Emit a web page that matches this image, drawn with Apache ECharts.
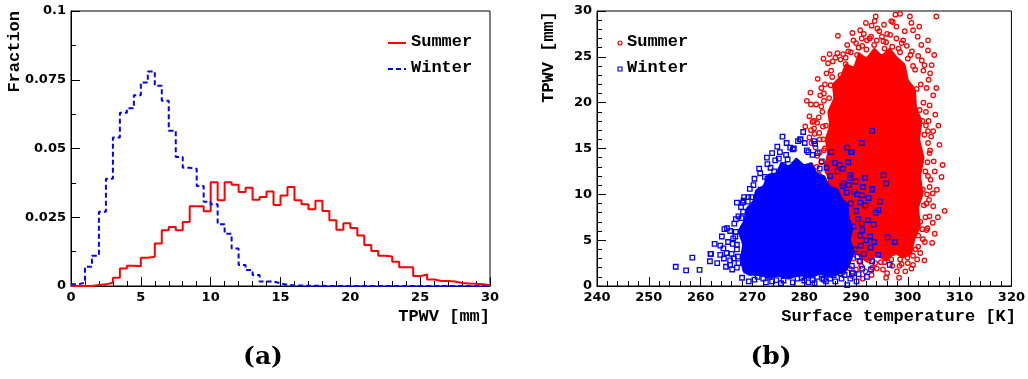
<!DOCTYPE html>
<html><head><meta charset="utf-8">
<script src="https://cdn.jsdelivr.net/npm/echarts@6/dist/echarts.min.js"></script>
<style>html,body{margin:0;padding:0;background:#fff}#c{width:1028px;height:379px}</style>
</head><body><div id="c"></div>
<script>
// ---- (a) histogram: fraction per 0.5 mm bin, 0..30 mm ----
const binWidth = 0.5;
const summerHist = [0,0,0,0.0004,0.0006,0.0012,0.003,0.0064,0.0074,0.0072,
  0.0103,0.0106,0.0155,0.0203,0.0215,0.0203,0.0233,0.029,0.029,0.0272,
  0.0377,0.0312,0.0377,0.0368,0.0342,0.0357,0.0314,0.0324,0.0344,0.0295,
  0.0329,0.036,0.0312,0.0297,0.0279,0.031,0.0273,0.0239,0.0205,0.0228,
  0.0211,0.0184,0.0149,0.0127,0.011,0.0107,0.0088,0.0068,0.0068,0.0036,
  0.0042,0.0024,0.0018,0.0018,0.0016,0.0011,0.0009,0.0008,0.0006,0.0003];
const winterHist = [0.0006,0.0012,0.007,0.011,0.027,0.039,0.054,0.063,0.0646,0.0694,
  0.074,0.078,0.0728,0.0674,0.0565,0.0469,0.043,0.0426,0.0364,0.0306,
  0.0297,0.0225,0.019,0.0136,0.0076,0.0058,0.004,0.0016,0.0016,0.001,
  0.0004,0.0002,0.0002,0.0001,0.0001,0.0001,0,0,0,0,
  0,0,0,0,0,0,0,0,0,0,
  0,0,0,0,0,0,0,0,0,0];
const histXTicks = [0,5,10,15,20,25,30];
const histYTicks = [0,0.025,0.05,0.075,0.1];

// ---- (b) scatter: surface temperature [K] vs TPWV [mm] ----
// outlines of the saturated (solid) part of each cloud
const summerCore = [[287,3.5],[286,5],[285.5,6.5],[285,8],[284.3,10],[284.6,11.5],[283.8,13],[284.4,14.5],[284,16],
  [284.8,17.5],[284.5,19],[285.6,20.5],[285.4,22],[287,23],[288,24.3],[289.5,24],[290.5,25.5],[292,25],[293.5,26],
  [295,25.3],[296.5,26],[298,25],[299.5,24.2],[300.2,22.5],[301.5,21.5],[301.8,19.5],[302.8,18],[302.4,16],[303.2,14],
  [302.6,12],[303,10],[302.2,8.5],[302.5,6.5],[301.4,5],[300.8,3.5],[299,3],[297.5,3.5],[296,2.7],[294,3.2],[292,2.6],
  [290,3.4],[288.5,3]];
const winterCore = [[268.2,1.5],[267.6,3],[268,4.5],[267.2,6],[268.3,7.2],[268.8,8.5],[270,9.3],[270.6,10.5],[272,11],
  [273,12.2],[274.5,12.4],[275.5,13.5],[277,13.2],[278.5,14],[280,13.3],[281.5,13.5],[282.5,12.4],[284,12],[285,11],
  [286.5,10.6],[287.5,9.5],[288.5,9],[288.8,7.5],[289.5,6.3],[289,5],[289.8,3.8],[289,2.5],[288.2,1.6],[286.5,1.2],
  [285,0.9],[283,1.2],[281,0.8],[279,1.1],[277,0.7],[275,1],[273,0.8],[271,1.2],[269.5,1.1]];
// individual points outside the saturated cores
const summerPts = [[293.8,29.4],[293.6,28.9],[297.6,29.6],[298.5,29.7],[300.4,29.4],[305.5,29.4],[297.1,28.8],[297.8,28.3],
  [294.1,28.1],[300.7,28.7],[302.2,28.3],[301,27.9],[286.5,27.3],[291.1,27],[292.9,27.2],[295,27.2],[299.1,26.8],[303.9,26.8],
  [302.6,26.3],[292.1,26.8],[295.3,26.7],[298.2,25.9],[303.9,25.7],[305.1,25.2],[286.4,25.4],[288,24.9],[290.2,25.2],[284.6,24.3],
  [287,24.7],[304.6,24.1],[303.2,24.1],[305.5,21.6],[303.6,21.6],[304.2,19.7],[305.3,18.7],[283.3,21.6],[283.8,21],[281.3,19.8],
  [283.3,19.6],[281,18.5],[281.6,17.9],[281.9,17.2],[285.4,22.8],[285.1,21.9],[306.1,15.4],[304.5,16.3],[306.7,13.2],[306.5,11.9],
  [307.1,8.2],[304.8,10.1],[304.9,8.7],[304.8,6.9],[304.7,4.7],[303.2,2.8],[301,2.3],[298.8,2.4],[295.9,3],[294.6,3.4],
  [293.7,2.5],[297.2,3.6],[299.7,3.9],[302,4.3],[303.6,6.1],[304.2,7.6],[304.1,9.4],[304.4,11.6],[304.2,14.5],[303.9,15.6],
  [284.6,1.6],[281.9,18],[281.3,17],[282.9,16.7],[283.7,16],[281.4,15.6],[282.2,15.1],[283.8,14.8],
  [289,25.5],[290.5,26],[292,25.8],[293.5,26.3],[295.5,25.9],[297,26.1],[298.5,25.5],[300,24.8],[301,24],[288,24.2],
  [287,23],[296,27.5],[294.5,27.8],[299.8,26.2],[291.5,27.5],[302,25.1],[289.5,26.8],[297.8,27],[293,28.4],[300.8,25.6],
  [302.5,22],[303,20],[302.8,18],[303.2,16.5],[302.6,14],[303.4,12.5],[302.9,10.5],[303.1,8.8],[302.4,7],[302,5.5],
  [301.5,4],[303.8,13.5],[303.5,17.5],[302.3,19.2],[304,22.5],[303,23.5],[301.7,21.5],[303.7,10],[302.8,6.2],[303.3,4.8],
  [284,22],[284.8,20.5],[283.5,19],[284.2,17.5],[283,16],[284,15],[283.3,13.5],[284.5,12.5],[282.5,14.2],[285.2,23.5],
  [283.8,20.2],[282.8,18.4],[285.5,24.5],[282,16.6],[283.6,11.8],
  [288,2.5],[289.5,3],[291,2.2],[292.5,2.8],[294,1.9],[295.5,2.6],[297,2.2],[298.5,2.9],[300,2.5],[299.5,1.6],
  [296,1.4],[293,1.2],[290,1.8],[287.5,1.5],[301,3.3],[285.5,2.5],[286.5,4],[284,3.3],[289.2,1.1],
  [288.5,25.6],[290,26.5],[291.2,26.2],[292.6,27],[294,26.8],[295.8,26.6],[296.6,27.4],[298.8,26.5],[300.5,25.2],[301.4,23.6],
  [289.3,27.6],[291.9,28.7],[295.4,28.5],[296.8,28.9],[299.4,27.8],[301.9,27.2],[288.3,26.3],[287.5,25.3],[286,24.9],[290.8,27.9],
  [303.5,19],[304,18],[303.9,16.9],[304.3,14.8],[303.9,12],[304.2,10.8],[303.6,9],[303.4,7.5],[303.8,6.3],[302.9,5.1],
  [305,13.6],[305.2,12.5],[305.6,10.5],[305.8,7.5],[305.2,5.7],[304.9,16.9],[304.9,20.8],[304.3,23.2],[302.7,24.6],[305.9,17.5],
  [283.3,10.6],[282.8,12.2],[282.4,13],[283,14.6],[282.5,17.8],[283.6,17.4],[282.3,19.8],[283.1,20.8],[284.3,23.2],[284.9,25.3],
  [283.7,24.8],[282.6,22.6],[281.2,21.1],[280.5,20.2],[281,16.2],[280.2,17.4],
  [287.6,2.6],[288.8,1.9],[290.6,2.7],[291.8,1.6],[293.2,2],[294.8,2.6],[295.2,1.8],[296.8,2.9],[297.9,1.6],[298.4,2.2],
  [299.9,3.1],[300.7,1.9],[301.8,2.9],[302.4,3.6],[291.3,0.8],[295.8,0.9],[298.3,0.9]];
const winterPts = [[279.2,16],[280.1,15.6],[277.3,15.1],[277.8,14.9],[280.8,14.6],[282.6,14.5],[285.2,14.6],[272.8,14],
  [274.4,13.7],[275.1,13.9],[273.5,12.9],[276.8,13.8],[272.4,11.9],[272.9,11.7],[274.2,12.5],[271.6,10.5],[272.8,10.5],[274,10.8],
  [268.4,9.7],[269.2,9.7],[269.8,9.7],[268.1,9.1],[271.4,9.7],[269.1,9.2],[271,8.6],[267,9.1],[268.2,8.1],[267.3,7.6],
  [267.9,7.4],[269.1,7.7],[264.6,6.2],[265.1,6.3],[265.7,6],[266.7,5.4],[264.1,5.4],[266.3,5.2],[263.8,4.4],[264.4,4.1],
  [267,4.5],[261.9,3.5],[263.8,3.4],[266,3.5],[267.2,3.2],[261.8,2.7],[265.7,2.8],[265.7,2.3],[267.3,2.5],[259.8,1.75],
  [269.5,1.6],[270.8,1.4],[272.1,0.8],[273.3,1],[274.6,0.65],[276.8,1.2],[278.7,0.8],[281.6,0.65],[283.5,0.8],[285.7,1.2],
  [287,1.4],[288.3,0.1],[289.2,1.4],[292.1,1],[290.8,2.7],[293.1,2.7],[292.7,5.4],[293.4,6.7],[291.1,6.8],[291.1,9.9],
  [293.1,10.5],[291.3,10.8],[289.9,11.4],[288.9,12.1],[286.4,12.5],[289.2,14.6],[291.1,15.6],[293.1,16.9],[285.9,13.4],[287.6,11.2],
  [288.6,11],[295.3,12.1],[295.8,11.2],[293.1,10.6],[294.6,9.2],[294.3,8.3],[297.5,4.8],[296.1,5.3],[296.5,2.3],[289.4,1.4],
  [288.3,15.1],[289,14.6],[279.3,16],[281.9,15.8],[255.2,2.1],[257.2,1.7],[258.4,3.1],[262,3.5],[266.8,7.3],
  [271,1],[276,0.6],[279.5,0.9],[282.5,1],[285,0.8],[287.8,1.2],[273.8,0.5],[280.8,0.4],[284.2,0.5],
  [289,9],[290,8.2],[289.5,6.5],[290.8,5.5],[289.8,4],[291.5,3.5],[288.9,11.8],[287.5,12.8],[290.2,10],[291.8,8.8],
  [292.3,7.2],[289.2,2.2],[290.5,1.3],[292.8,4.2],[288.5,13.5],[286.8,13.2],[270.2,11],[276,13.2],[283,12.8],[285,12],
  [271.5,12.3],[272.9,13.3],[273.8,14.5],[275.3,14.6],[276.5,14.3],[278,15],[278.8,15.8],[280.5,14.8],[281.6,14.3],[283.4,13.6],
  [284.3,12.9],[276.6,15.6],[275.8,16.3],[279.8,16.8],[282.1,15.5],[274.8,15.2],
  [266.5,6.8],[266.8,5.9],[267,4],[266.4,3],[267,2],[266.2,4.6],[265.3,4.8],[265,3.6],[264.9,2.1],[266.1,1.8],
  [268.3,9.3],[269.5,10.6],[270.4,11.7],[271.3,12.8],[267.8,8.6],[264.5,3],[263.2,2.5],[262.7,4.6],
  [268,0.9],[269.3,0.5],[270.4,0.7],[272.6,0.4],[275.5,0.3],[277.8,0.4],[280,0.6],[282,0.3],[283.8,0.7],[286,0.5],
  [287.2,0.8],[288.9,0.8],[290.1,0.5],[291.2,1.9],
  [290.3,3.2],[290.9,4.4],[291.2,6.1],[290.4,7.3],[290.8,9.1],[289.6,10.3],[288.2,10.2],[287.4,10.9],[291.7,11.8],[292.4,9.6],
  [293.8,8],[292,5],[293.5,4.8],[294.3,3.4],[292.9,1.8]];
const scatXTicks = [240,250,260,270,280,290,300,310,320];
const scatYTicks = [0,5,10,15,20,25,30];

const RED = '#ff0000', BLUE = '#0000ff';
const MONO = '"Liberation Mono","DejaVu Sans Mono",monospace';
const SANS = '"DejaVu Sans","Liberation Sans",sans-serif';

function histLine(vals) {
  const pts = vals.map((v, i) => [i * binWidth, v]);
  pts.push([vals.length * binWidth, vals[vals.length - 1]]);
  return pts;
}
function axisCommon(ticks, minorSplit, labelFmt) {
  return {
    type: 'value', min: ticks[0], max: ticks[ticks.length - 1], interval: ticks[1] - ticks[0],
    axisLine: { show: true, lineStyle: { color: '#000', width: 1 } },
    axisTick: { show: true, inside: true, length: 9, lineStyle: { color: '#000' } },
    minorTick: { show: true, splitNumber: minorSplit, length: 5, lineStyle: { color: '#000' } },
    splitLine: { show: false },
    axisLabel: { color: '#000', fontFamily: SANS, fontWeight: 'bold', fontSize: 13, margin: 5,
      showMinLabel: true, showMaxLabel: true, formatter: labelFmt }
  };
}
function polySeries(core, color, z) {
  return {
    type: 'custom', xAxisIndex: 1, yAxisIndex: 1, z: z, silent: true, clip: true,
    data: [core[0]],
    renderItem: (params, api) => ({
      type: 'polygon',
      shape: { points: core.map(p => api.coord(p)), smooth: 0.15 },
      style: { fill: color }
    })
  };
}

const chart = echarts.init(document.getElementById('c'), null, { renderer: 'canvas' });
const legendText = (x, y, s) => ({ type: 'text', left: x, top: y - 10, style: { text: s, fill: '#000', font: 'bold 17px ' + MONO } });
chart.setOption({
  animation: false,
  backgroundColor: '#fff',
  grid: [
    { left: 71, top: 11, width: 419, height: 275, show: true, borderColor: '#000', borderWidth: 1, backgroundColor: 'transparent' },
    { left: 597, top: 11, width: 419, height: 275, show: true, borderColor: '#000', borderWidth: 1, backgroundColor: 'transparent' }
  ],
  xAxis: [
    Object.assign(axisCommon(histXTicks, 5), { gridIndex: 0 }),
    Object.assign(axisCommon(scatXTicks, 5), { gridIndex: 1 })
  ],
  yAxis: [
    Object.assign(axisCommon(histYTicks, 2, v => String(+v.toFixed(3))), { gridIndex: 0 }),
    Object.assign(axisCommon(scatYTicks, 5), { gridIndex: 1 })
  ],
  series: [
    { name: 'Summer', type: 'line', xAxisIndex: 0, yAxisIndex: 0, step: 'end', symbol: 'none', z: 3,
      data: histLine(summerHist), lineStyle: { color: RED, width: 2 } },
    { name: 'Winter', type: 'line', xAxisIndex: 0, yAxisIndex: 0, step: 'end', symbol: 'none', z: 4,
      data: histLine(winterHist), lineStyle: { color: BLUE, width: 2, type: [5, 3] } },
    polySeries(summerCore, RED, 2),
    { name: 'Summer', type: 'scatter', xAxisIndex: 1, yAxisIndex: 1, z: 3, symbol: 'circle', symbolSize: 4.5,
      data: summerPts, itemStyle: { color: 'rgba(255,255,255,0)', borderColor: RED, borderWidth: 1.3, opacity: 1 } },
    polySeries(winterCore, BLUE, 4),
    { name: 'Winter', type: 'scatter', xAxisIndex: 1, yAxisIndex: 1, z: 5, symbol: 'rect', symbolSize: 4.5,
      data: winterPts, itemStyle: { color: 'rgba(255,255,255,0)', borderColor: BLUE, borderWidth: 1.3, opacity: 1 } }
  ],
  graphic: [
    // legend (a)
    { type: 'line', shape: { x1: 388, y1: 43, x2: 406, y2: 43 }, style: { stroke: RED, lineWidth: 2 } },
    legendText(411, 43, 'Summer'),
    { type: 'line', shape: { x1: 388, y1: 69, x2: 406, y2: 69 }, style: { stroke: BLUE, lineWidth: 2, lineDash: [5, 3] } },
    legendText(411, 69, 'Winter'),
    // legend (b)
    { type: 'circle', shape: { cx: 620, cy: 43, r: 2 }, style: { fill: 'none', stroke: RED, lineWidth: 1.2 } },
    legendText(627, 43, 'Summer'),
    { type: 'rect', shape: { x: 618, y: 67, width: 4, height: 4 }, style: { fill: 'none', stroke: BLUE, lineWidth: 1.2 } },
    legendText(627, 69, 'Winter'),
    // axis titles
    { type: 'text', x: 490, y: 317, style: { text: 'TPWV [mm]', align: 'right', verticalAlign: 'middle', fill: '#000', font: 'bold 17px ' + MONO } },
    { type: 'text', x: 1016, y: 317, style: { text: 'Surface temperature [K]', align: 'right', verticalAlign: 'middle', fill: '#000', font: 'bold 17px ' + MONO } },
    { type: 'text', x: 15, y: 11, rotation: Math.PI / 2, style: { text: 'Fraction', align: 'right', verticalAlign: 'middle', fill: '#000', font: 'bold 17px ' + MONO } },
    { type: 'text', x: 549, y: 11, rotation: Math.PI / 2, style: { text: 'TPWV [mm]', align: 'right', verticalAlign: 'middle', fill: '#000', font: 'bold 17px ' + MONO } },
    // panel labels
    { type: 'text', x: 263, y: 357, style: { text: '(a)', align: 'center', verticalAlign: 'middle', fill: '#000', font: 'bold 25px "DejaVu Serif","Liberation Serif",serif' } },
    { type: 'text', x: 771, y: 357, style: { text: '(b)', align: 'center', verticalAlign: 'middle', fill: '#000', font: 'bold 25px "DejaVu Serif","Liberation Serif",serif' } }
  ]
});
</script>
</body></html>
